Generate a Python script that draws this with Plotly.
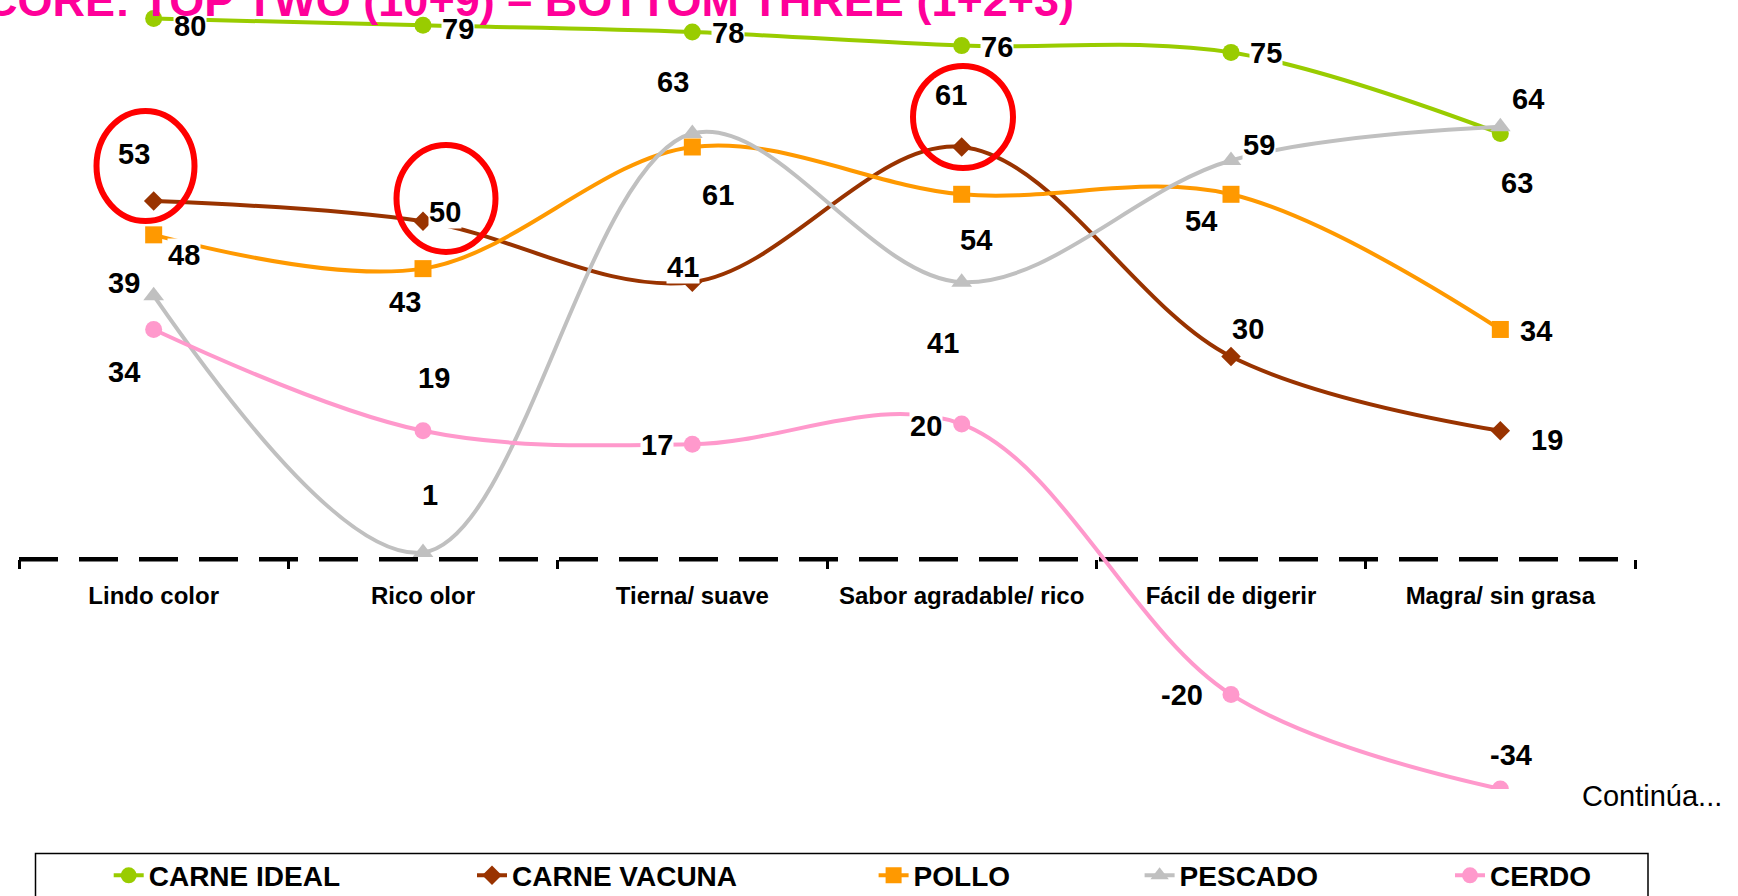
import plotly.graph_objects as go

# ---------------- data ----------------
categories = ["Lindo color", "Rico olor", "Tierna/ suave", "Sabor agradable/ rico",
              "Fácil de digerir", "Magra/ sin grasa"]
series_names = ["CARNE IDEAL", "CARNE VACUNA", "POLLO", "PESCADO", "CERDO"]
carne_ideal = [80, 79, 78, 76, 75, 63]
carne_vacuna = [53, 50, 41, 61, 30, 19]
pollo = [48, 43, 61, 54, 54, 34]
pescado = [39, 1, 63, 41, 59, 64]
cerdo = [34, 19, 17, 20, -20, -34]
title_text = "SCORE: TOP TWO (10+9) \u2013 BOTTOM THREE (1+2+3)"
note_text = "Continúa..."

values = [carne_ideal, carne_vacuna, pollo, pescado, cerdo]

# ---------------- styles ----------------
colors = ["#99CC00", "#993300", "#FF9900", "#C0C0C0", "#FF99CC"]
symbols = ["circle", "diamond", "square", "triangle-up", "circle"]
msizes = [17, 15, 17, 18, 17]

# label offsets (px, in reference pixels: +x right, +y down)
label_offsets = [
    [(33, 7), (32, 3), (32, 1), (32, 1), (32, 1), (15, 45)],
    [(-18, -42), (20, -8), (-8, -14), (-10, -47), (15, -25), (42, 8)],
    [(27, 18), (-16, 30), (23, 43), (13, 41), (-27, 24), (32, 1)],
    [(-27, -11), (6, -52), (-17, -46), (-17, 55), (25, -14), (25, -25)],
    [(-27, 38), (10, -48), (-32, 1), (-32, 2), (-44, 1), (10, -31)],
]
SC = 1738 / 1568.0

# plot geometry (px)
ML, MR, MT, MB = 19, 103, 4, 107
W = 1738 - ML - MR
H = 896 - MT - MB
Y_BOTTOM = -34
PXU = 6.758
Y_TOP = Y_BOTTOM + H / PXU


def px_x_data(px):
    return (px - ML) / (W / 6.0) - 0.5


def px_y_data(py):
    return Y_BOTTOM + (MT + H - py) / PXU


def px_x_paper(px):
    return (px - ML) / W


def px_y_paper(py):
    return (MT + H - py) / H


FONT = "Liberation Sans, Arial, sans-serif"

fig = go.Figure()
legend_ids = ["legend", "legend2", "legend3", "legend4", "legend5"]
for i, name in enumerate(series_names):
    fig.add_trace(go.Scatter(
        x=categories, y=values[i], name=name, mode="lines+markers",
        line=dict(color=colors[i], width=4, shape="spline", smoothing=1),
        marker=dict(symbol=symbols[i], size=msizes[i], color=colors[i]),
        legend=legend_ids[i], cliponaxis=True,
    ))

annotations = []
for i in range(len(series_names)):
    for j, c in enumerate(categories):
        dx, dy = label_offsets[i][j]
        annotations.append(dict(
            x=c, y=values[i][j], xref="x", yref="y", text=str(values[i][j]),
            showarrow=False, xshift=dx * SC, yshift=-dy * SC,
            font=dict(family=FONT, size=29, color="black", weight="bold"),
            bgcolor="white", borderpad=0,
        ))

# clipped title
annotations.append(dict(
    x=px_x_paper(1076), y=px_y_paper(28), xref="paper", yref="paper",
    xanchor="right", yanchor="bottom", text=title_text, showarrow=False,
    font=dict(family=FONT, size=45, color="#FF0099", weight="bold"),
))
annotations.append(dict(
    x=px_x_paper(1580), y=px_y_paper(796), xref="paper", yref="paper",
    xanchor="left", yanchor="middle", text=note_text, showarrow=False,
    font=dict(family=FONT, size=29, color="black"),
))

shapes = [
    dict(type="line", xref="paper", yref="y", x0=0, x1=1, y0=0, y1=0,
         line=dict(color="black", width=4.5, dash="39px,21px"), layer="below"),
]
for (cx, cy, rx, ry) in [(145.5, 166, 49, 55), (446, 198.5, 49.5, 53.5), (963, 117, 50, 51)]:
    shapes.append(dict(type="circle", xref="x", yref="y",
                       x0=px_x_data(cx - rx), x1=px_x_data(cx + rx),
                       y0=px_y_data(cy + ry), y1=px_y_data(cy - ry),
                       line=dict(color="#FF0000", width=6), layer="above"))
# legend frame
shapes.append(dict(type="rect", xref="paper", yref="paper",
                   x0=px_x_paper(35.5), x1=px_x_paper(1648),
                   y0=px_y_paper(853.5), y1=px_y_paper(910),
                   line=dict(color="black", width=1.5), fillcolor="rgba(0,0,0,0)"))

layout_legends = {}
text_starts = [150.7, 514, 915.6, 1181.6, 1492]
for i, lid in enumerate(legend_ids):
    layout_legends[lid] = dict(
        x=px_x_paper(text_starts[i] - 42), y=px_y_paper(875.6),
        xanchor="left", yanchor="middle", orientation="h",
        font=dict(family=FONT, size=28, color="black", weight="bold"),
        bgcolor="rgba(0,0,0,0)", borderwidth=0,
    )

fig.update_layout(
    width=1738, height=896,
    margin=dict(l=ML, r=MR, t=MT, b=MB, pad=0, autoexpand=False),
    paper_bgcolor="white", plot_bgcolor="white",
    showlegend=True,
    annotations=annotations, shapes=shapes,
    xaxis=dict(type="category", range=[-0.5, 5.5], anchor="free",
               position=(0 - Y_BOTTOM) / (Y_TOP - Y_BOTTOM),
               showgrid=False, zeroline=False, showline=False, automargin=False,
               ticks="outside", tickson="boundaries", ticklen=9, tickwidth=3,
               tickcolor="black", ticklabelstandoff=20,
               tickfont=dict(family=FONT, size=24, color="black", weight="bold")),
    yaxis=dict(range=[Y_BOTTOM, Y_TOP], visible=False, showgrid=False, zeroline=False,
               automargin=False),
    **layout_legends,
)

fig.write_html(
    "out.html",
    config={"displayModeBar": False},
    post_script="document.body.style.margin='0px';document.body.style.overflow='hidden';",
)
